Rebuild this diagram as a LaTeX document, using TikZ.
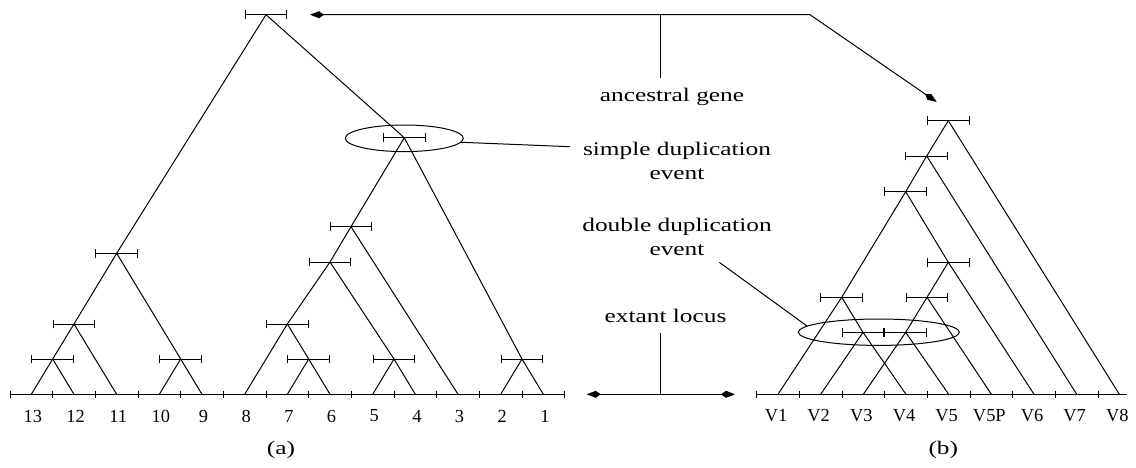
\documentclass[tikz,border=0pt]{standalone}
\usepackage{fontspec}
\setmainfont{Liberation Serif}
\newfontfamily\widefont{Liberation Serif}[FakeStretch=1.32]
\usepackage{tikz}
\usetikzlibrary{arrows.meta,shapes.geometric,calc}

\begin{document}
\begin{tikzpicture}[x=0.5pt,y=-0.5pt,line width=0.5pt,
                    >={Kite[length=7pt,width=3.5pt,inset=2.5pt]}]
  \tikzstyle{errbar}=[{Bar[width=4.3pt]}-{Bar[width=4.3pt]}]
  \tikzstyle{lbl}=[font=\widefont\fontsize{9.6}{12}\selectfont,align=center,inner sep=5pt]
  \tikzstyle{leaf}=[font=\fontsize{9.2}{11}\selectfont,inner sep=2pt]
  \tikzstyle{event}=[ellipse,draw,inner sep=0pt]

  \useasboundingbox (0,0) rectangle (1136,467);

  \foreach \i in {1,...,13}{
    \coordinate (l\i) at ({31.33+42.67*(13-\i)},394.3);
    \node[leaf] (t\i) at ($(l\i)+(1.5,21.7)$) {\i};
  }
  \foreach \v [count=\k] in {V1,V2,V3,V4,V5,V5P,V6,V7,V8}{
    \coordinate (\v) at ({778+42.67*(\k-1)},394.3);
    \node[leaf] (t\v) at ($(\v)+(-2,21.7)$) {\v};
  }

  \draw (10,394.3) -- (564.5,394.3);
  \foreach \k in {0,...,13} \draw ({10+42.67*\k},390.8) -- ++(0,7);
  \draw (756.7,394.3) -- (1126.7,394.3);
  \foreach \k in {0,...,8} \draw ({756.7+42.67*\k},390.8) -- ++(0,7);

  \coordinate (R)   at (266,14.7);
  \coordinate (N1)  at (116.67,253.3);
  \coordinate (N2)  at (74,324);
  \coordinate (N3)  at (52.67,359);
  \coordinate (N4)  at (180.67,359);
  \coordinate (S)   at (404.3,137.7);
  \coordinate (A)   at (351,226.7);
  \coordinate (B)   at (330,262);
  \coordinate (C)   at (287.33,324);
  \coordinate (N76) at (308.67,359);
  \coordinate (N54) at (394,359);
  \coordinate (D)   at (522,359);

  \path (R) edge (N1) edge (S)
        (N1) edge (N2) edge (N4)
        (N2) edge (N3) edge (l11)
        (N3) edge (l13) edge (l12)
        (N4) edge (l10) edge (l9)
        (S) edge (A) edge (D)
        (A) edge (B) edge (l3)
        (B) edge (C) edge (N54)
        (C) edge (l8) edge (N76)
        (N76) edge (l7) edge (l6)
        (N54) edge (l5) edge (l4)
        (D) edge (l2) edge (l1);

  \coordinate (T1) at (948.3,120.7);
  \coordinate (T2) at (926.7,156);
  \coordinate (T3) at (905.7,191.7);
  \coordinate (T4) at (948.3,262.3);
  \coordinate (E)  at (841.7,297.3);
  \coordinate (F)  at (927,297.3);
  \coordinate (G)  at (863,332.3);
  \coordinate (H)  at (905.7,332.3);

  \path (T1) edge (T2) edge (V8)
        (T2) edge (T3) edge (V7)
        (T3) edge (E) edge (T4)
        (T4) edge (F) edge (V6)
        (F) edge (H) edge (V5P)
        (E) edge (V1) edge (G)
        (G) edge (V2) edge (V4)
        (H) edge (V3) edge (V5);

  \foreach \n in {R,N1,N2,N3,N4,S,A,B,C,N76,N54,D,T1,T2,T3,T4,E,F,G,H}
    \draw[errbar] ([xshift=-10.67pt]\n) -- ([xshift=10.67pt]\n);

  \node[event,minimum width=59pt,minimum height=13.3pt] (sdup) at (404.3,138.3) {};
  \node[event,minimum width=80.5pt,minimum height=13.2pt] (ddup) at (878.8,332.2) {};

  \node[lbl] (ag) at (672,97.3) {ancestral gene};
  \node[lbl] (sd) at (677,161) {simple duplication\\event};
  \node[lbl] (dd) at (677,237) {double duplication\\event};
  \node[lbl] (el) at (665.5,316) {extant locus};
  \node[lbl] (capa) at (281,450) {(a)};
  \node[lbl] (capb) at (943.3,450) {(b)};

  \coordinate (agL) at (310,14.7);
  \coordinate (agC) at (810,14.7);
  \coordinate (agR) at (936.7,102);
  \coordinate (agM) at (660.7,14.7);
  \draw[<->] (agL) -- (agC) -- (agR);
  \draw (agM) -- (agM |- ag.north);

  \coordinate (sdin) at (570,146.7);
  \draw (sdup.-4) -- (sdin);
  \coordinate (ddin) at (719.3,262.3);
  \draw (ddin) -- (ddup.175);

  \coordinate (elL) at (586.7,394.3);
  \coordinate (elR) at (735,394.3);
  \coordinate (elM) at (660.5,394.3);
  \draw[<->] (elL) -- (elR);
  \draw (elM) -- (elM |- el.south);
\end{tikzpicture}
\end{document}
